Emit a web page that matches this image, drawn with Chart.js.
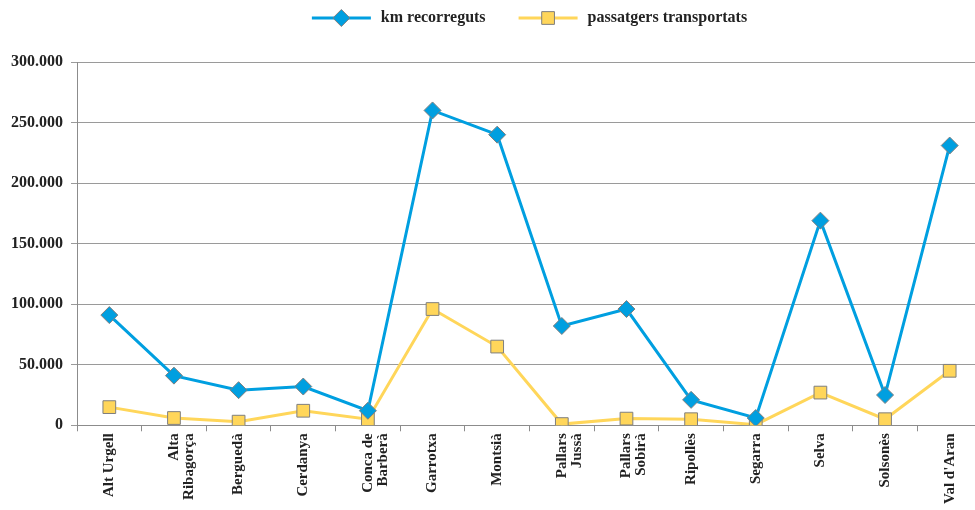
<!DOCTYPE html>
<html lang="ca">
<head>
  <meta charset="UTF-8">
  <title>km recorreguts i passatgers transportats</title>
  <script src="https://cdn.jsdelivr.net/npm/chart.js"></script>
  <style>
    html, body { margin: 0; padding: 0; background: #fff; overflow: hidden; }
    #wrap { width: 993px; height: 510px; }
  </style>
</head>
<body>
  <div id="wrap"><canvas id="myChart" width="993" height="510"></canvas></div>

  <script>
    // comarques (multi-line labels as arrays)
    var comarques = [
      'Alt Urgell', ['Alta', 'Ribagorça'], 'Berguedà', 'Cerdanya', ['Conca de', 'Barberà'],
      'Garrotxa', 'Montsià', ['Pallars', 'Jussà'], ['Pallars', 'Sobirà'], 'Ripollès',
      'Segarra', 'Selva', 'Solsonès', "Val d'Aran"
    ];
    var kmRecorreguts = [91000, 41000, 29000, 32000, 12000, 260000, 240000, 82000, 96000, 21000, 6000, 169000, 25000, 231000];
    var passatgers = [15000, 6000, 3000, 12000, 5000, 96000, 65000, 1000, 5500, 5000, 500, 27000, 5000, 45000];
    var yTicks = [0, 50000, 100000, 150000, 200000, 250000, 300000];

    var BLUE = '#009fe0';
    var YELLOW = '#ffd65a';
    var FONT = 'Liberation Serif';

    function fmt(v) {
      return String(v).replace(/\B(?=(\d{3})+(?!\d))/g, '.');
    }

    // legend drawn by hand: line + marker + text, centred over the plot
    var lineLegend = {
      id: 'lineLegend',
      afterDraw: function(chart) {
        var ctx = chart.ctx;
        var area = chart.chartArea;
        var sampleW = 59, textGap = 10, itemGap = 33, y = 18;
        ctx.save();
        ctx.font = 'bold 16px "' + FONT + '"';
        var widths = chart.data.datasets.map(function(ds) {
          return sampleW + textGap + ctx.measureText(ds.label).width;
        });
        var total = widths.reduce(function(a, b) { return a + b; }, 0) + itemGap * (widths.length - 1);
        var x = (area.left + area.right) / 2 - total / 2;
        chart.data.datasets.forEach(function(ds, i) {
          ctx.strokeStyle = ds.borderColor;
          ctx.lineWidth = 3;
          ctx.beginPath();
          ctx.moveTo(x, y);
          ctx.lineTo(x + sampleW, y);
          ctx.stroke();
          ctx.fillStyle = ds.pointBackgroundColor;
          ctx.strokeStyle = ds.pointBorderColor;
          ctx.lineWidth = 1;
          Chart.helpers.drawPoint(ctx, {
            pointStyle: ds.pointStyle,
            radius: ds.pointRadius,
            borderWidth: 1
          }, x + sampleW / 2, y);
          ctx.fillStyle = '#222';
          ctx.textBaseline = 'middle';
          ctx.textAlign = 'left';
          ctx.fillText(ds.label, x + sampleW + textGap, y);
          x += widths[i] + itemGap;
        });
        ctx.restore();
      }
    };

    var ctx = document.getElementById('myChart').getContext('2d');

    var myChart = new Chart(ctx, {
      type: 'line',
      data: {
        labels: comarques,
        datasets: [
          {
            label: 'km recorreguts',
            data: kmRecorreguts,
            borderColor: BLUE,
            backgroundColor: BLUE,
            borderWidth: 3,
            pointStyle: 'rectRot',
            pointRadius: 8.5,
            pointHoverRadius: 8.5,
            pointBackgroundColor: BLUE,
            pointBorderColor: '#7f7f7f',
            pointBorderWidth: 1,
            tension: 0
          },
          {
            label: 'passatgers transportats',
            data: passatgers,
            borderColor: YELLOW,
            backgroundColor: YELLOW,
            borderWidth: 3,
            pointStyle: 'rect',
            pointRadius: 9,
            pointHoverRadius: 9,
            pointBackgroundColor: YELLOW,
            pointBorderColor: '#7f7f7f',
            pointBorderWidth: 1,
            tension: 0
          }
        ]
      },
      options: {
        responsive: false,
        animation: false,
        layout: { padding: { left: 3, right: 11, top: 62, bottom: 4 } },
        plugins: {
          tooltip: { enabled: false },
          legend: { display: false }
        },
        scales: {
          x: {
            type: 'category',
            offset: true,
            border: { color: '#8c8c8c', width: 1 },
            grid: {
              offset: true,
              drawOnChartArea: false,
              drawTicks: true,
              tickLength: 6,
              color: '#8c8c8c'
            },
            ticks: {
              minRotation: 90,
              maxRotation: 90,
              autoSkip: false,
              padding: 2,
              color: '#222',
              font: { family: FONT, size: 15, weight: 'bold', lineHeight: 1.0 }
            }
          },
          y: {
            min: 0,
            max: 300000,
            afterBuildTicks: function(axis) {
              axis.ticks = yTicks.map(function(v) { return { value: v }; });
            },
            border: { color: '#8c8c8c', width: 1 },
            grid: {
              color: '#9a9a9a',
              tickLength: 6
            },
            ticks: {
              padding: 8,
              color: '#222',
              font: { family: FONT, size: 16, weight: 'bold' },
              callback: function(v) { return fmt(v); }
            }
          }
        }
      },
      plugins: [lineLegend]
    });
  </script>
</body>
</html>
